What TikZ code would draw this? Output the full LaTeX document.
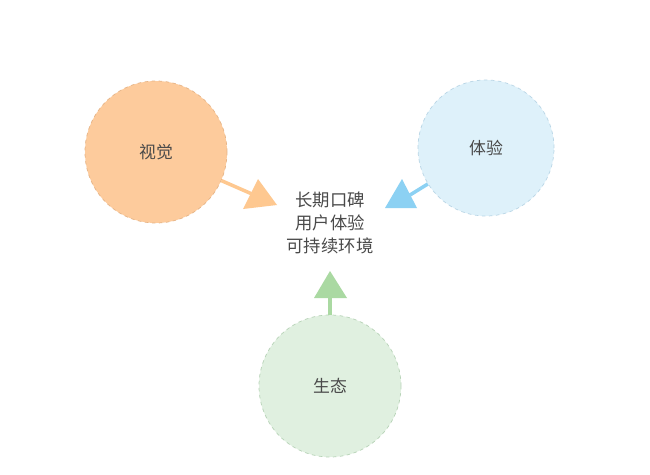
\documentclass[tikz,border=0pt]{standalone}
\usepackage{fontspec}
\newfontfamily\cjk{Noto Sans CJK SC}
\usepackage{tikz}
\usetikzlibrary{backgrounds,calc}
\definecolor{visfill}{HTML}{FDCB9C}
\definecolor{visline}{HTML}{E6B486}
\definecolor{visarrow}{HTML}{FEC890}
\definecolor{expfill}{HTML}{DEF1FA}
\definecolor{expline}{HTML}{B9D6E6}
\definecolor{exparrow}{HTML}{8CD1F3}
\definecolor{ecofill}{HTML}{E0F0E0}
\definecolor{ecoline}{HTML}{B7D3B7}
\definecolor{ecoarrow}{HTML}{AAD9A2}
\definecolor{txt}{HTML}{4A4A4A}
\tikzset{
  bubble/.style={circle, dashed, line width=0.6pt, minimum size=4.26cm, inner sep=0pt,
    font=\cjk\fontsize{14.4}{17}\selectfont, text=txt},
  link/.style={line width=3pt}
}
\begin{document}
\begin{tikzpicture}[x=0.03cm, y=-0.03cm]
\useasboundingbox[fill=white] (0,0) rectangle (650,474);
\node[bubble, fill=visfill, draw=visline] (vis) at (156,152) {视觉};
\node[bubble, fill=expfill, draw=expline, minimum size=4.08cm] (exp) at (486,148) {体验};
\node[bubble, fill=ecofill, draw=ecoline] (eco) at (330,386) {生态};
\node[align=center, text=txt, font=\cjk\fontsize{14.8}{19.5}\selectfont] (core) at (330,223) {长期口碑\\用户体验\\可持续环境};
\coordinate (vistip) at (252,194);
\coordinate (exptip) at (410,195);
\coordinate (ecotip) at (330,296);
\draw[link, visarrow] (vis) -- (vistip);
\draw[link, exparrow] (exp) -- (exptip);
\draw[link, ecoarrow] (eco) -- (ecotip);
\fill[visarrow] (258,179) -- (277,205) -- (243,209) -- cycle;
\fill[exparrow] (402,179) -- (417,208) -- (385,208) -- cycle;
\fill[ecoarrow] (330,271) -- (347,298) -- (314,298) -- cycle;
\end{tikzpicture}
\end{document}
